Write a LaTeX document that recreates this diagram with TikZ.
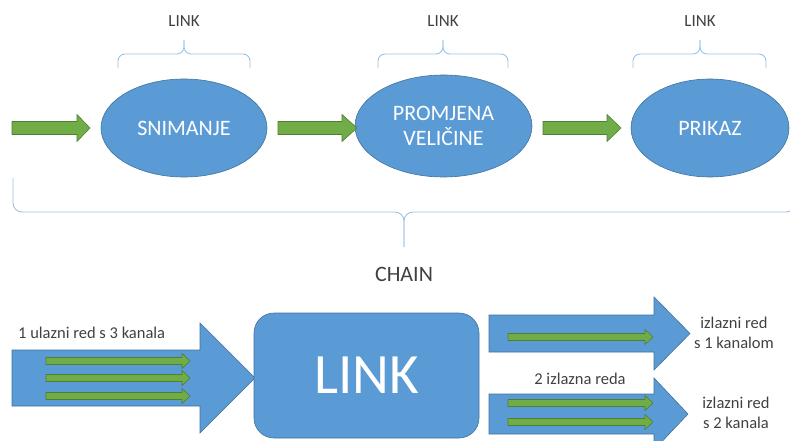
\documentclass[tikz,border=0pt]{standalone}
\usepackage{fontspec}
\setmainfont{Carlito}
\usetikzlibrary{shapes.geometric}

\definecolor{blkblue}{HTML}{5B9BD5}
\definecolor{blkline}{HTML}{41719C}
\definecolor{grnfill}{HTML}{70AD47}
\definecolor{grnline}{HTML}{507E32}
\definecolor{brcblue}{HTML}{9DC3E6}
\definecolor{txtgray}{HTML}{404040}

% block arrow: style, start x, head x, tip x, mid y, half shaft, half head
\newcommand{\barrow}[7]{%
    \draw[#1] (#2,#5-#6) -- (#3,#5-#6) -- (#3,#5-#7) -- (#4,#5)
        -- (#3,#5+#7) -- (#3,#5+#6) -- (#2,#5+#6) -- cycle;}

\tikzset{
    blk/.style={fill=blkblue, draw=blkline, line width=0.6pt},
    grn/.style={fill=grnfill, draw=grnline, line width=0.6pt},
    brc/.style={draw=brcblue, line width=0.9pt, rounded corners=7pt},
    lbl/.style={text=txtgray, inner sep=0pt, font=\fontsize{16.5}{20}\selectfont},
    stage/.style={ellipse, fill=blkblue, draw=blkline, line width=0.6pt,
        inner sep=0pt, text=white, align=center, font=\fontsize{22}{25}\selectfont},
}

\begin{document}
\begin{tikzpicture}[x=1pt,y=-1pt]
    \useasboundingbox (0,0) rectangle (790,441);
    \clip (0,0) rectangle (790,441);

    % upper chain
    \begin{scope}
    \def\midy{128}

    \node[stage, minimum width=166pt, minimum height=98pt] (snim) at (184,\midy) {SNIMANJE};
    \node[stage, minimum width=177pt, minimum height=102pt] (prom) at (443.5,126) {PROMJENA\\VELIČINE};
    \node[stage, minimum width=158pt, minimum height=98pt] (prik) at (710,\midy) {PRIKAZ};

    \foreach \xa/\xb/\xc in {12/77/90, 278/342/357, 543/607/621} {
        \barrow{grn}{\xa}{\xb}{\xc}{\midy}{6.5}{13.5}
    }

    \foreach \l/\m/\r [count=\i] in {118/184/250, 378/443/508, 633/700/766} {
        \draw[brc] (\l,68) -- (\l,54) -- (\m,54) -- (\m,40);
        \draw[brc] (\r,68) -- (\r,54) -- (\m,54) -- (\m,40);
        \node[lbl, font=\fontsize{17}{20}\selectfont] (link\i) at (\m,21) {LINK};
    }

    \draw[brc, rounded corners=9pt] (13,178) -- (13,212) -- (404,212) -- (404,247);
    \draw[brc, rounded corners=9pt] (795,178) -- (795,212) -- (404,212) -- (404,247);
    \node[lbl, font=\fontsize{22}{25}\selectfont] (chain) at (404,274) {CHAIN};
    \end{scope}

    % one link in detail
    \begin{scope}
    \barrow{blk}{12}{200}{255}{378}{28}{55}
    \barrow{blk}{489}{654}{690}{333.5}{18.5}{36.5}
    \barrow{blk}{489}{654}{688}{414}{20}{36}

    \foreach \y in {361,378,396} {
        \barrow{grn}{46}{182}{190}{\y}{3.5}{7.5}
    }
    \foreach \y in {337,403,422} {
        \barrow{grn}{508}{645}{653}{\y}{3.5}{7.5}
    }

    \node[fill=blkblue, draw=blkline, line width=0.6pt, rounded corners=20pt,
        minimum width=225pt, minimum height=125pt, text=white,
        font=\fontsize{57}{60}\selectfont] (lnk) at (366.5,375.5) {LINK};

    \node[lbl, anchor=west] (inq) at (18,333) {1 ulazni red s 3 kanala};
    \node[lbl, align=center] (outa) at (734,333) {izlazni red\\s 1 kanalom};
    \node[lbl] (outn) at (580,379) {2 izlazna reda};
    \node[lbl, align=center] (outb) at (736,412.5) {izlazni red\\s 2 kanala};
    \end{scope}
\end{tikzpicture}
\end{document}
